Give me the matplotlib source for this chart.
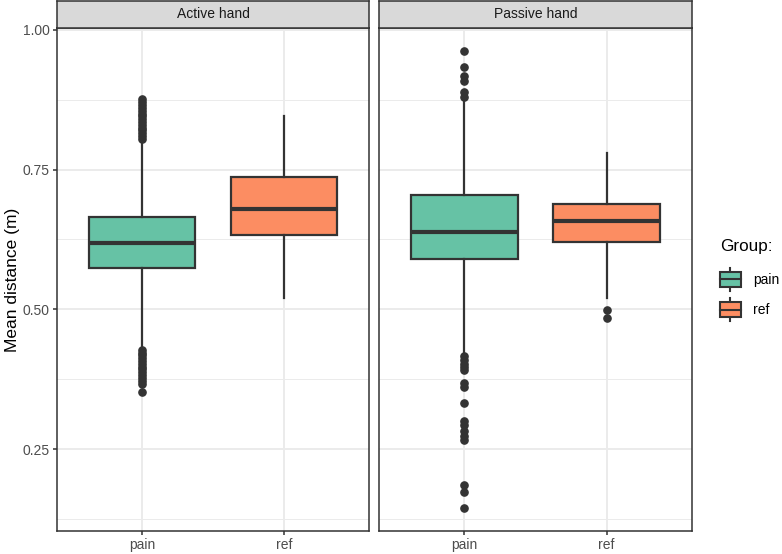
import matplotlib
matplotlib.use("Agg")
import matplotlib.pyplot as plt
from matplotlib.patches import Rectangle, Patch
from matplotlib.lines import Line2D
from matplotlib.legend_handler import HandlerBase

plt.rcParams['font.family'] = ['Liberation Sans', 'DejaVu Sans']

# ---------------- data ----------------
panels = ["Active hand", "Passive hand"]
groups = ["pain", "ref"]
colors = {"pain": "#66C2A5", "ref": "#FC8D62"}

# Active hand
act_pain_q1, act_pain_med, act_pain_q3 = 0.574, 0.618, 0.666
act_pain_whislo, act_pain_whishi = 0.435, 0.800
act_pain_fliers = [0.805, 0.81, 0.815, 0.82, 0.825, 0.83, 0.835, 0.84, 0.845,
                   0.85, 0.855, 0.86, 0.865, 0.87, 0.876,
                   0.428, 0.423, 0.418, 0.413, 0.408, 0.403, 0.398, 0.393,
                   0.388, 0.383, 0.378, 0.372, 0.366, 0.353]
act_ref_q1, act_ref_med, act_ref_q3 = 0.633, 0.680, 0.736
act_ref_whislo, act_ref_whishi = 0.520, 0.846
act_ref_fliers = []

# Passive hand
pas_pain_q1, pas_pain_med, pas_pain_q3 = 0.590, 0.639, 0.705
pas_pain_whislo, pas_pain_whishi = 0.419, 0.873
pas_pain_fliers = [0.962, 0.934, 0.917, 0.908, 0.888, 0.880,
                   0.416, 0.410, 0.403, 0.397, 0.391, 0.369, 0.361, 0.332,
                   0.301, 0.293, 0.283, 0.274, 0.266, 0.187, 0.173, 0.145]
pas_ref_q1, pas_ref_med, pas_ref_q3 = 0.620, 0.658, 0.689
pas_ref_whislo, pas_ref_whishi = 0.520, 0.779
pas_ref_fliers = [0.499, 0.484]

y_ticks = [0.25, 0.50, 0.75, 1.00]
y_tick_labels = ["0.25", "0.50", "0.75", "1.00"]
y_minor = [0.125, 0.375, 0.625, 0.875]
ylabel = "Mean distance (m)"
legend_title = "Group:"

def st(label, q1, med, q3, lo, hi, fl):
    return dict(label=label, q1=q1, med=med, q3=q3, whislo=lo, whishi=hi, fliers=fl)

stats = {
    "Active hand": [st("pain", act_pain_q1, act_pain_med, act_pain_q3, act_pain_whislo, act_pain_whishi, act_pain_fliers),
                    st("ref", act_ref_q1, act_ref_med, act_ref_q3, act_ref_whislo, act_ref_whishi, act_ref_fliers)],
    "Passive hand": [st("pain", pas_pain_q1, pas_pain_med, pas_pain_q3, pas_pain_whislo, pas_pain_whishi, pas_pain_fliers),
                     st("ref", pas_ref_q1, pas_ref_med, pas_ref_q3, pas_ref_whislo, pas_ref_whishi, pas_ref_fliers)],
}

# ---------------- layout ----------------
W, H = 782, 554
fig = plt.figure(figsize=(W / 100, H / 100), dpi=100)
fig.patch.set_facecolor("white")

dark = "#333333"
grey20 = "#333333"
panel_px = [(57, 369), (379, 692)]
top_px, bot_px, strip_top = 28, 531, 1

allvals = []
for p in panels:
    for s in stats[p]:
        allvals += [s["whislo"], s["whishi"]] + list(s["fliers"])
lo, hi = min(allvals), max(allvals)
pad = (hi - lo) * 0.05
ylim = (lo - pad, hi + pad)

for i, p in enumerate(panels):
    x0, x1 = panel_px[i]
    ax = fig.add_axes([x0 / W, 1 - bot_px / H, (x1 - x0) / W, (bot_px - top_px) / H])
    ax.set_facecolor("white")
    ax.set_xlim(0.4, 2.6)
    ax.set_ylim(*ylim)
    # grid
    for yv in y_minor:
        ax.axhline(yv, color="#EBEBEB", lw=0.7, zorder=0)
    for yv in y_ticks:
        ax.axhline(yv, color="#EBEBEB", lw=1.4, zorder=0)
    for xv in [1, 2]:
        ax.axvline(xv, color="#EBEBEB", lw=1.4, zorder=0)
    ss = stats[p]
    bp = ax.bxp(ss, positions=[1, 2], widths=0.75, patch_artist=True,
                showcaps=False,
                boxprops=dict(edgecolor=dark, linewidth=1.6),
                whiskerprops=dict(color=dark, linewidth=1.6),
                medianprops=dict(color=dark, linewidth=3.0, solid_capstyle="butt"),
                flierprops=dict(marker="o", markerfacecolor=dark, markeredgecolor=dark,
                                markersize=5.2, linestyle="none"),
                zorder=2)
    for patch, s in zip(bp["boxes"], ss):
        patch.set_facecolor(colors[s["label"]])
    ax.set_xticks([1, 2])
    ax.set_xticklabels(groups, fontsize=10, color="#4D4D4D")
    ax.tick_params(axis="both", length=3.1, width=1.1, color=grey20, pad=2)
    if i == 0:
        ax.set_yticks(y_ticks)
        ax.set_yticklabels(y_tick_labels, fontsize=10, color="#4D4D4D")
        ax.set_ylabel(ylabel, fontsize=12.5, color="black", labelpad=2)
    else:
        ax.set_yticks([])
    for sp in ax.spines.values():
        sp.set_color(grey20)
        sp.set_linewidth(1.1)
    # strip
    sax = fig.add_axes([x0 / W, 1 - top_px / H, (x1 - x0) / W, (top_px - strip_top) / H])
    sax.set_facecolor("#D9D9D9")
    sax.set_xticks([])
    sax.set_yticks([])
    for sp in sax.spines.values():
        sp.set_color(grey20)
        sp.set_linewidth(1.1)
    sax.text(0.5, 0.5, p, transform=sax.transAxes, ha="center", va="center",
             fontsize=10, color="#1A1A1A")


class BoxKeyHandler(HandlerBase):
    def create_artists(self, legend, orig_handle, xdescent, ydescent, width, height, fontsize, trans):
        x0, y0 = -xdescent, -ydescent
        fc = orig_handle.get_facecolor()
        bh = height * 0.64
        by = y0 + (height - bh) / 2
        rect = Rectangle((x0, by), width, bh, facecolor=fc, edgecolor=dark, lw=1.5, transform=trans)
        med = Line2D([x0, x0 + width], [y0 + height / 2] * 2, color=dark, lw=1.5, transform=trans)
        w1 = Line2D([x0 + width / 2] * 2, [y0, by], color=dark, lw=1.5, transform=trans)
        w2 = Line2D([x0 + width / 2] * 2, [by + bh, y0 + height], color=dark, lw=1.5, transform=trans)
        return [w1, w2, rect, med]


handles = [Patch(facecolor=colors[g], label=g) for g in groups]
leg = fig.legend(handles=handles, labels=groups, title=legend_title,
                 handler_map={Patch: BoxKeyHandler()},
                 loc="center left", bbox_to_anchor=(720 / W, 1 - 280 / H),
                 frameon=False, fontsize=10, title_fontsize=12.3,
                 handlelength=1.5, handleheight=2.15, labelspacing=0.55,
                 handletextpad=0.86, borderpad=0, borderaxespad=0,
                 alignment="left")
leg._legend_box.sep = 10

fig.savefig("out.png", dpi=100)
